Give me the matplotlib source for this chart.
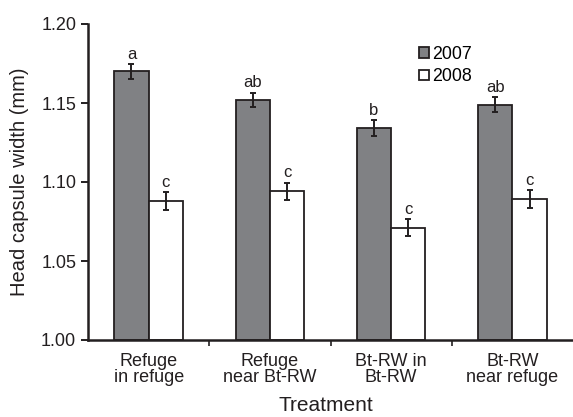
import numpy as np
import matplotlib.pyplot as plt

plt.rcParams['font.family'] = ['Liberation Sans', 'DejaVu Sans']

# data
treatments = ["Refuge\nin refuge", "Refuge\nnear Bt-RW", "Bt-RW in\nBt-RW", "Bt-RW\nnear refuge"]
years = ["2007", "2008"]
mean_2007 = [1.170, 1.152, 1.134, 1.149]
err_2007 = [0.0045, 0.0046, 0.0050, 0.0046]
mean_2008 = [1.088, 1.094, 1.071, 1.089]
err_2008 = [0.0055, 0.0055, 0.0053, 0.0057]
letters_2007 = ["a", "ab", "b", "ab"]
letters_2008 = ["c", "c", "c", "c"]

fig = plt.figure(figsize=(5.73, 4.17), dpi=100)
ax = fig.add_axes([88/573, 1-340/417, 1-88/573, (340-24)/417])

x = np.arange(len(treatments))
w = 0.283
dark = "#231f20"
ax.bar(x - w/2, np.array(mean_2007) - 1.0, w, bottom=1.0, color="#808184",
       edgecolor=dark, linewidth=1.3, label=years[0])
ax.bar(x + w/2, np.array(mean_2008) - 1.0, w, bottom=1.0, color="white",
       edgecolor=dark, linewidth=1.3, label=years[1])
ax.errorbar(x - w/2, mean_2007, yerr=err_2007, fmt="none", ecolor=dark,
            elinewidth=1.4, capsize=2.5, capthick=1.4)
ax.errorbar(x + w/2, mean_2008, yerr=err_2008, fmt="none", ecolor=dark,
            elinewidth=1.4, capsize=2.5, capthick=1.4)

# letters above the error bars
for xi, m, e, t in zip(x - w/2, mean_2007, err_2007, letters_2007):
    ax.annotate(t, (xi, m + e), xytext=(0, 4), textcoords="offset points",
                ha="center", va="baseline", fontsize=12, color=dark)
for xi, m, e, t in zip(x + w/2, mean_2008, err_2008, letters_2008):
    ax.annotate(t, (xi, m + e), xytext=(0, 4), textcoords="offset points",
                ha="center", va="baseline", fontsize=12, color=dark)

ax.set_xlim(-0.5, 3.5)
ax.set_ylim(1.0, 1.2)
ax.set_yticks([1.00, 1.05, 1.10, 1.15, 1.20])
ax.set_yticklabels(["1.00", "1.05", "1.10", "1.15", "1.20"])
ax.set_xticks(x)
ax.set_xticklabels(treatments, linespacing=1.0)
ax.set_xticks([0.5, 1.5, 2.5], minor=True)
ax.tick_params(axis="x", which="major", length=0, pad=9, labelsize=13, colors=dark)
ax.tick_params(axis="x", which="minor", length=4, width=1.2, direction="out", color=dark)
ax.tick_params(axis="y", length=5, width=1.4, direction="out", labelsize=13, colors=dark)

for s in ["top", "right"]:
    ax.spines[s].set_visible(False)
for s in ["left", "bottom"]:
    ax.spines[s].set_linewidth(1.8)
    ax.spines[s].set_color(dark)

ax.set_xlabel("Treatment", fontsize=15, color=dark)
ax.xaxis.set_label_coords(0.49, (340-415)/316)
ax.xaxis.label.set_verticalalignment("bottom")
ax.set_ylabel("Head capsule width (mm)", fontsize=14.5, color=dark)
ax.yaxis.set_label_coords((20-88)/485, 0.5)
ax.yaxis.label.set_verticalalignment("center")

ax.legend(loc="upper left", bbox_to_anchor=(419/573, 1-46/417), bbox_transform=fig.transFigure,
          frameon=False, fontsize=12.8, handlelength=0.55, handleheight=0.55,
          handletextpad=0.2, labelspacing=0.3, borderpad=0, borderaxespad=0)

plt.savefig("out.png", dpi=100)
